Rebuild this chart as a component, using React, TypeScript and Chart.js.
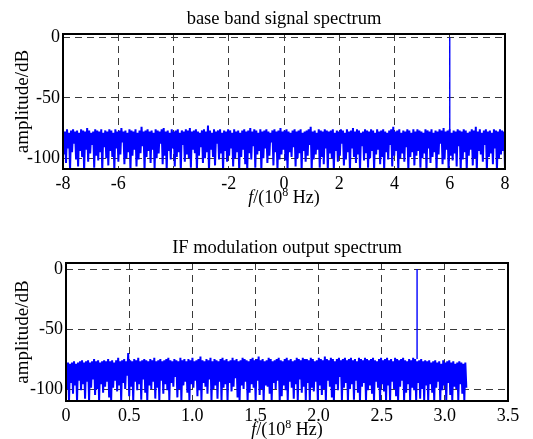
import React, { useEffect, useRef } from 'react';
import { Chart, registerables } from 'chart.js';
Chart.register(...registerables);

const baseTitle = 'base band signal spectrum';
const ifTitle = 'IF modulation output spectrum';
const yLabel = 'amplitude/dB';

const baseXTicks = [-8, -6, -4, -2, 0, 2, 4, 6, 8];
const baseXTickLabels = ['-8', '-6', '', '-2', '0', '2', '4', '6', '8'];
const ifXTicks = [0, 0.5, 1, 1.5, 2, 2.5, 3, 3.5];
const ifXTickLabels = ['0', '0.5', '1.0', '1.5', '2.0', '2.5', '3.0', '3.5'];
const yTicks = [0, -50, -100];
const yTickLabels = ['0', '-50', '-100'];

// frequency span covered by the noise floor (10^8 Hz)
const baseFreqSpan = [-8, 8];
const ifFreqSpan = [0, 3.17];

// carrier peaks: [frequency, floor dB, peak dB]
const basePeak = [6, -77, 0];
const ifPeak = [2.78, -75, 0];

// noise floor, local maxima (dB)
const baseNoiseUpper = [
  -77, -78, -76, -79, -77, -76, -78, -77, -79, -76, -77, -78, -75, -77, -79, -78, -76, -77, -78, -76, -79, -77,
  -78, -76, -77, -79, -76, -78, -77, -75, -78, -77, -79, -76, -77, -78, -76, -79, -77, -74, -78, -77, -76, -78,
  -77, -79, -76, -77, -78, -76, -75, -78, -77, -79, -76, -78, -77, -76, -79, -77, -78, -76, -77, -75, -78, -77,
  -76, -78, -79, -77, -76, -78, -73, -77, -79, -76, -78, -77, -76, -79, -77, -78, -76, -77, -79, -76, -78, -77,
  -79, -77, -76, -78, -77, -75, -78, -76, -77, -79, -76, -78, -77, -76, -78, -79, -77, -76, -78, -77, -75, -78,
  -77, -76, -78, -79, -77, -76, -78, -77, -76, -79, -78, -77, -76, -74, -78, -77, -79, -76, -77, -78, -76, -77,
  -78, -77, -76, -79, -77, -78, -76, -77, -79, -76, -78, -77, -75, -78, -76, -77, -79, -78, -76, -77, -78, -76,
  -77, -79, -76, -78, -77, -76, -78, -79, -77, -76, -74, -78, -77, -76, -79, -77, -78, -76, -77, -79, -76, -78,
  -76, -77, -78, -79, -76, -77, -78, -76, -79, -77, -78, -76, -77, -75, -78, -77, -76, -79, -77, -78, -76, -77,
  -78, -76, -77, -79, -78, -76, -77, -74, -78, -76, -79, -77, -76, -78, -77, -79, -76, -77, -78, -76, -77, -78,
];
// noise floor, local minima (dB)
const baseNoiseLower = [
  -97, -104, -92, -110, -95, -88, -101, -107, -94, -99, -110, -93, -103, -96, -89, -108, -98, -102, -95, -110, -91, -100,
  -106, -94, -99, -110, -92, -103, -97, -87, -105, -100, -95, -110, -98, -93, -107, -101, -96, -90, -110, -99, -94, -104,
  -93, -109, -100, -96, -88, -105, -98, -110, -94, -101, -92, -107, -99, -95, -110, -89, -103, -97, -100, -108, -93, -96,
  -110, -98, -91, -104, -100, -95, -110, -93, -99, -106, -88, -101, -96, -110, -94, -103, -98, -92, -107, -100, -95, -110,
  -99, -93, -105, -110, -96, -101, -90, -108, -97, -94, -110, -100, -92, -104, -98, -87, -106, -95, -110, -101, -97, -93,
  -102, -110, -95, -99, -91, -107, -100, -96, -110, -94, -103, -98, -89, -110, -101, -97, -93, -108, -99, -105, -92, -110,
  -96, -100, -110, -94, -103, -98, -88, -106, -101, -95, -110, -92, -99, -104, -97, -110, -90, -102, -96, -108, -100, -94,
  -110, -97, -93, -105, -99, -110, -95, -101, -89, -107, -98, -94, -110, -100, -96, -103, -91, -110, -99, -95, -106, -98,
  -94, -108, -100, -96, -110, -92, -104, -99, -95, -110, -97, -88, -105, -101, -93, -110, -98, -102, -96, -107, -90, -110,
  -101, -95, -110, -98, -93, -106, -100, -110, -94, -97, -103, -89, -110, -99, -96, -105, -92, -110, -100, -97, -94, -108,
];

const ifNoiseUpper = [
  -79, -78, -79, -78, -77, -79, -78, -77, -76, -78, -77, -76, -78, -77, -75, -77, -76, -78, -77, -76,
  -77, -75, -77, -76, -78, -76, -74, -77, -76, -75, -77, -70, -76, -77, -75, -76, -74, -77, -76, -75,
  -76, -77, -75, -76, -74, -77, -76, -75, -77, -76, -75, -74, -76, -77, -75, -76, -77, -74, -76, -75,
  -77, -75, -76, -74, -77, -76, -75, -73, -76, -77, -75, -76, -74, -77, -75, -76, -77, -75, -74, -76,
  -75, -77, -76, -74, -76, -75, -77, -76, -74, -75, -76, -77, -75, -74, -76, -75, -73, -76, -75, -77,
  -76, -74, -75, -77, -76, -75, -74, -76, -77, -75, -74, -76, -75, -77, -76, -74, -75, -76, -74, -75,
  -75, -76, -74, -75, -77, -76, -74, -75, -76, -73, -75, -76, -74, -75, -77, -75, -74, -76, -75, -74,
  -76, -75, -74, -76, -75, -77, -74, -75, -76, -74, -75, -76, -75, -74, -76, -77, -75, -74, -76, -75,
  -74, -76, -75, -77, -74, -75, -76, -75, -74, -76, -77, -75, -76, -74, -75, -77, -76, -75, -77, -76,
  -77, -76, -78, -77, -76, -78, -77, -79, -76, -78, -77, -76, -78, -77, -79, -78, -77, -78, -79, -78,
];
const ifNoiseLower = [
  -100, -110, -95, -104, -97, -110, -93, -101, -96, -108, -94, -110, -99, -92, -105, -100, -110, -96, -103, -98,
  -94, -107, -110, -99, -93, -102, -97, -110, -95, -100, -89, -106, -98, -110, -94, -101, -96, -109, -92, -103,
  -110, -97, -100, -94, -108, -99, -110, -93, -104, -96, -101, -110, -95, -98, -90, -107, -100, -110, -97, -94,
  -103, -110, -96, -99, -93, -106, -101, -110, -95, -98, -104, -92, -110, -100, -97, -108, -94, -110, -99, -96,
  -110, -95, -102, -98, -91, -107, -110, -97, -100, -94, -110, -103, -96, -99, -110, -93, -105, -100, -110, -97,
  -98, -104, -110, -95, -100, -93, -110, -106, -97, -101, -110, -94, -99, -108, -96, -110, -92, -103, -98, -110,
  -95, -110, -99, -102, -94, -110, -97, -105, -100, -110, -93, -98, -107, -110, -96, -101, -90, -110, -99, -95,
  -110, -100, -96, -109, -93, -103, -110, -98, -95, -110, -101, -97, -104, -110, -94, -99, -110, -96, -102, -110,
  -97, -110, -94, -100, -106, -110, -98, -93, -110, -103, -96, -110, -99, -101, -110, -95, -108, -100, -110, -97,
  -110, -96, -103, -110, -99, -94, -110, -101, -97, -110, -95, -105, -110, -98, -100, -110, -96, -104, -110, -99,
];

const SERIF = '"Liberation Serif", "Times New Roman", serif';

// interleave the maxima and minima into one trace over the frequency span
function toPoints(upper: number[], lower: number[], span: number[]) {
  const ys: number[] = [];
  upper.forEach((u, i) => {
    ys.push(u, lower[i]);
  });
  const n = ys.length;
  return ys.map((y, i) => ({ x: span[0] + ((span[1] - span[0]) * i) / (n - 1), y }));
}

const decorPlugin = {
  id: 'decor',
  afterDraw(chart: any, _args: any, opts: any) {
    const { ctx, chartArea } = chart;
    const { left, right, top, bottom } = chartArea;
    const cx = (left + right) / 2;
    ctx.save();
    ctx.strokeStyle = '#000';
    ctx.lineWidth = 2;
    ctx.setLineDash([]);
    ctx.strokeRect(left, top, right - left, bottom - top);
    ctx.fillStyle = '#000';
    ctx.font = `18.5px ${SERIF}`;
    ctx.textAlign = 'center';
    ctx.textBaseline = 'alphabetic';
    ctx.fillText(opts.title, cx, top - 10);
    ctx.save();
    ctx.translate(opts.yLabelX, (top + bottom) / 2);
    ctx.rotate(-Math.PI / 2);
    ctx.font = `19px ${SERIF}`;
    ctx.textAlign = 'center';
    ctx.fillText(yLabel, 0, 6);
    ctx.restore();
    const parts = [
      { t: 'f', font: `italic 18px ${SERIF}`, dy: 0 },
      { t: '/(10', font: `18px ${SERIF}`, dy: 0 },
      { t: '8', font: `12px ${SERIF}`, dy: -7 },
      { t: ' Hz)', font: `18px ${SERIF}`, dy: 0 },
    ];
    let total = 0;
    const widths = parts.map((p) => {
      ctx.font = p.font;
      const w = ctx.measureText(p.t).width;
      total += w;
      return w;
    });
    let x = cx - total / 2;
    ctx.textAlign = 'left';
    const by = bottom + opts.xLabelOffset;
    parts.forEach((p, i) => {
      ctx.font = p.font;
      ctx.fillText(p.t, x, by + p.dy);
      x += widths[i];
    });
    ctx.restore();
  },
};

type PanelCfg = {
  title: string;
  upper: number[];
  lower: number[];
  span: number[];
  peak: number[];
  xTicks: number[];
  xTickLabels: string[];
  xMin: number;
  xMax: number;
  yMin: number;
  yMax: number;
  padTop: number;
  padRight: number;
  yAxisWidth: number;
  xAxisHeight: number;
  xLabelOffset: number;
};

function Panel({ cfg, height }: { cfg: PanelCfg; height: number }) {
  const ref = useRef<HTMLCanvasElement>(null);
  useEffect(() => {
    const canvas = ref.current!;
    const chart = new Chart(canvas, {
      type: 'line',
      data: {
        datasets: [
          {
            data: toPoints(cfg.upper, cfg.lower, cfg.span),
            borderColor: '#0000ff',
            borderWidth: 2,
            pointRadius: 0,
            tension: 0,
          },
          {
            data: [
              { x: cfg.peak[0], y: cfg.peak[1] },
              { x: cfg.peak[0], y: cfg.peak[2] },
            ],
            borderColor: '#0000ff',
            borderWidth: 1.4,
            pointRadius: 0,
          },
        ],
      },
      options: {
        animation: false,
        responsive: false,
        events: [],
        layout: { padding: { left: 0, right: cfg.padRight, top: cfg.padTop, bottom: 0 } },
        plugins: {
          legend: { display: false },
          title: { display: false },
          tooltip: { enabled: false },
          decor: { title: cfg.title, yLabelX: 22, xLabelOffset: cfg.xLabelOffset },
        } as any,
        scales: {
          x: {
            type: 'linear',
            min: cfg.xMin,
            max: cfg.xMax,
            afterBuildTicks: (s: any) => {
              s.ticks = cfg.xTicks.map((v) => ({ value: v }));
            },
            afterFit: (s: any) => {
              s.height = cfg.xAxisHeight;
            },
            ticks: {
              autoSkip: false,
              maxRotation: 0,
              padding: 4,
              color: '#000',
              font: { family: SERIF, size: 18 },
              callback: (v: any) => cfg.xTickLabels[cfg.xTicks.indexOf(Number(v))] ?? '',
            },
            grid: { color: '#3a3a3a', lineWidth: 1, drawTicks: false },
            border: { display: false, dash: [7, 5] },
          },
          y: {
            type: 'linear',
            min: cfg.yMin,
            max: cfg.yMax,
            afterBuildTicks: (s: any) => {
              s.ticks = yTicks.map((v) => ({ value: v }));
            },
            afterFit: (s: any) => {
              s.width = cfg.yAxisWidth;
            },
            ticks: {
              padding: 3,
              color: '#000',
              font: { family: SERIF, size: 18 },
              callback: (v: any) => yTickLabels[yTicks.indexOf(Number(v))] ?? '',
            },
            grid: { color: '#3a3a3a', lineWidth: 1, drawTicks: false },
            border: { display: false, dash: [7, 5] },
          },
        },
      },
      plugins: [decorPlugin],
    });
    return () => chart.destroy();
  }, []);
  return <canvas ref={ref} width={533} height={height} style={{ display: 'block' }} />;
}

const topCfg: PanelCfg = {
  title: baseTitle,
  upper: baseNoiseUpper,
  lower: baseNoiseLower,
  span: baseFreqSpan,
  peak: basePeak,
  xTicks: baseXTicks,
  xTickLabels: baseXTickLabels,
  xMin: -8,
  xMax: 8,
  yMin: -109,
  yMax: 3,
  padTop: 34,
  padRight: 28,
  yAxisWidth: 63,
  xAxisHeight: 51,
  xLabelOffset: 34,
};

const bottomCfg: PanelCfg = {
  title: ifTitle,
  upper: ifNoiseUpper,
  lower: ifNoiseLower,
  span: ifFreqSpan,
  peak: ifPeak,
  xTicks: ifXTicks,
  xTickLabels: ifXTickLabels,
  xMin: 0,
  xMax: 3.5,
  yMin: -110,
  yMax: 5,
  padTop: 43,
  padRight: 25,
  yAxisWidth: 66,
  xAxisHeight: 38,
  xLabelOffset: 34,
};

export default function App() {
  return (
    <div style={{ position: 'fixed', left: 0, top: 0, width: 533, height: 439, background: '#fff', overflow: 'hidden' }}>
      <Panel cfg={topCfg} height={220} />
      <Panel cfg={bottomCfg} height={219} />
    </div>
  );
}
